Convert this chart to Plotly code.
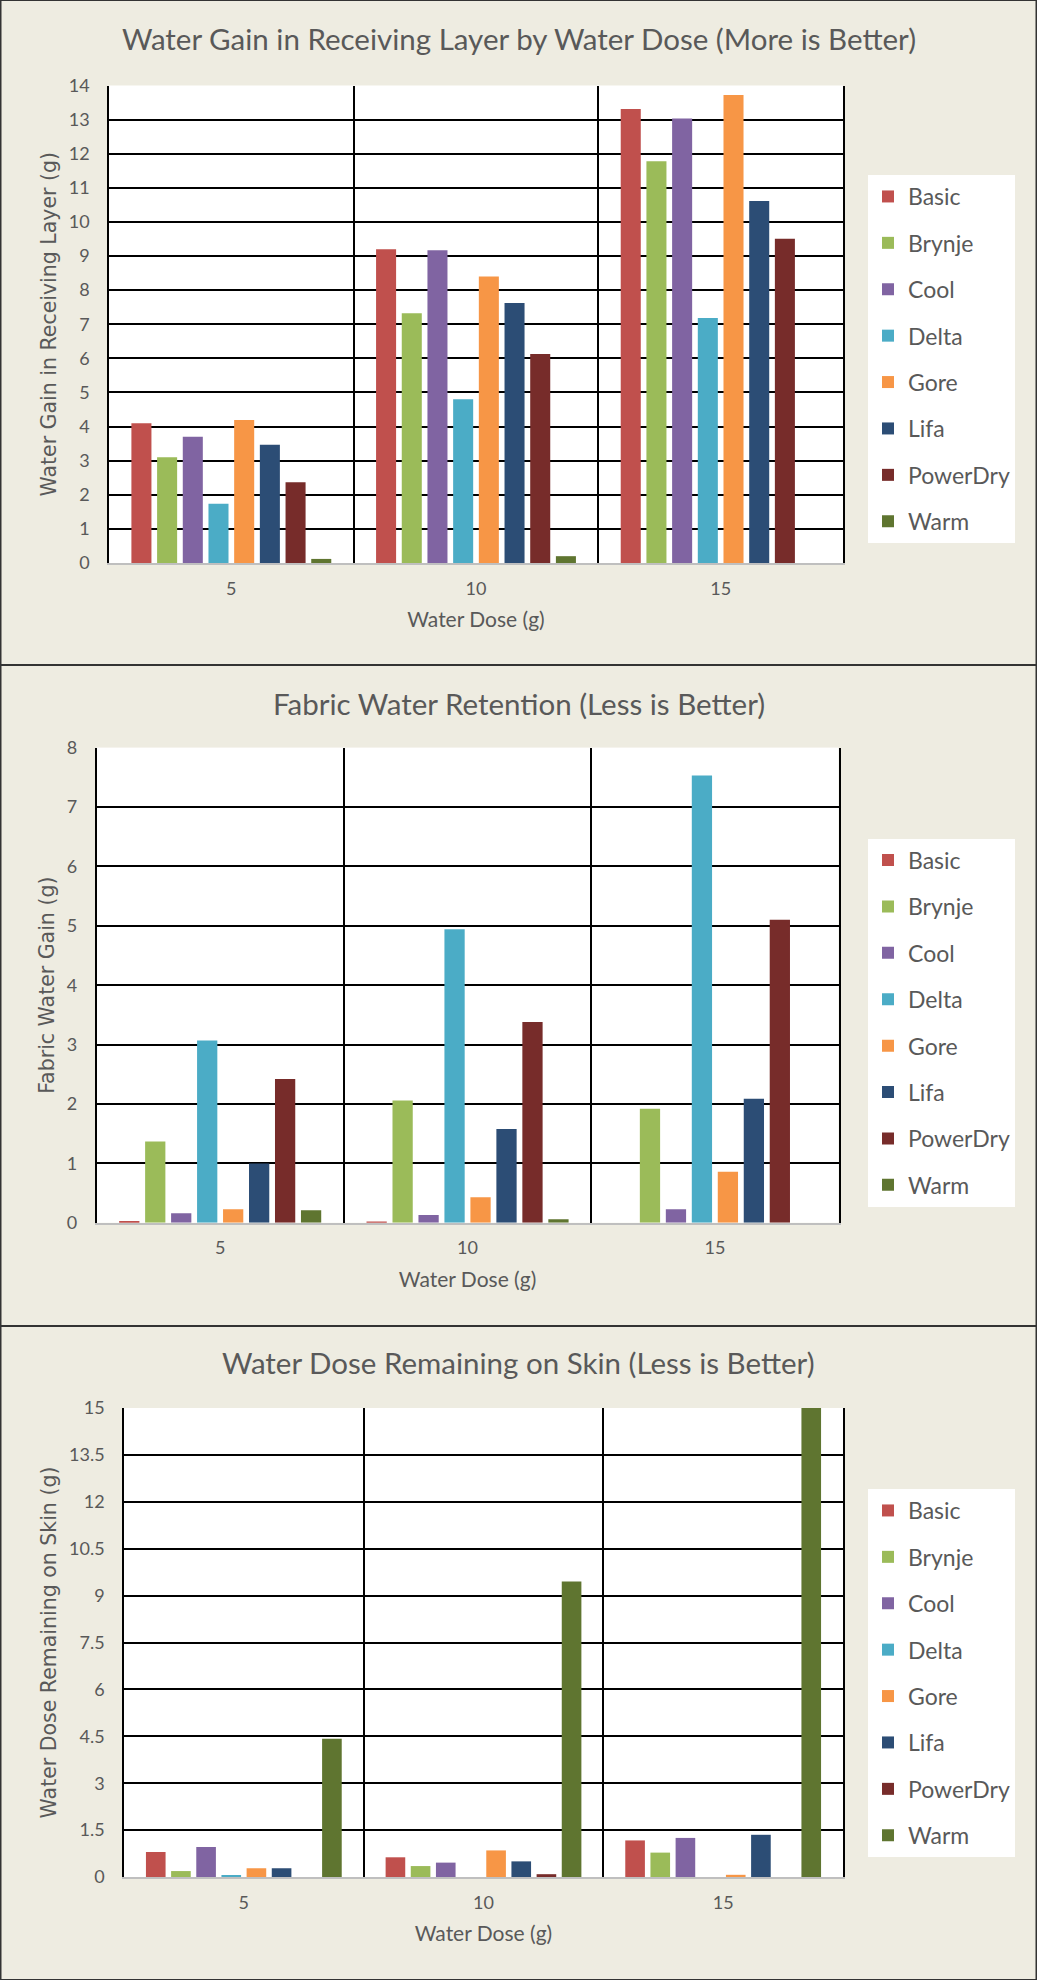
import plotly.graph_objects as go

doses = ["5", "10", "15"]
fabrics = ["Basic", "Brynje", "Cool", "Delta", "Gore", "Lifa", "PowerDry", "Warm"]
colors = ["#C0504D", "#9BBB59", "#8064A2", "#4BACC6", "#F79646", "#2C4D75", "#772C2A", "#5F7530"]

# Panel 1: Water gain in receiving layer (g)
gain_receiving = {
    "Basic":    [4.10, 9.20, 13.31],
    "Brynje":   [3.10, 7.32, 11.78],
    "Cool":     [3.70, 9.17, 13.03],
    "Delta":    [1.74, 4.80, 7.18],
    "Gore":     [4.19, 8.40, 13.72],
    "Lifa":     [3.47, 7.62, 10.61],
    "PowerDry": [2.37, 6.13, 9.51],
    "Warm":     [0.12, 0.20, 0.0],
}
# Panel 2: Fabric water gain (g)
fabric_gain = {
    "Basic":    [0.03, 0.01, 0.0],
    "Brynje":   [1.37, 2.06, 1.92],
    "Cool":     [0.16, 0.13, 0.23],
    "Delta":    [3.07, 4.94, 7.53],
    "Gore":     [0.23, 0.43, 0.86],
    "Lifa":     [1.00, 1.58, 2.09],
    "PowerDry": [2.42, 3.38, 5.10],
    "Warm":     [0.21, 0.06, 0.0],
}
# Panel 3: Water dose remaining on skin (g)
skin_remaining = {
    "Basic":    [0.80, 0.63, 1.17],
    "Brynje":   [0.19, 0.35, 0.78],
    "Cool":     [0.96, 0.46, 1.25],
    "Delta":    [0.04, 0.0, 0.0],
    "Gore":     [0.28, 0.85, 0.07],
    "Lifa":     [0.28, 0.50, 1.35],
    "PowerDry": [0.0, 0.09, 0.0],
    "Warm":     [4.42, 9.45, 15.0],
}

titles = [
    "Water Gain in Receiving Layer by Water Dose (More is Better)",
    "Fabric Water Retention (Less is Better)",
    "Water Dose Remaining on Skin (Less is Better)",
]
ytitles = ["Water Gain in Receiving Layer (g)", "Fabric Water Gain (g)", "Water Dose Remaining on Skin (g)"]
xtitle = "Water Dose (g)"

W, H = 1037, 1980
BG = "#EEECE1"
TXT = "#595959"
TFONT = "Lato"

datasets = [gain_receiving, fabric_gain, skin_remaining]
yranges = [[0, 14], [0, 8], [0, 15]]
dticks = [1, 1, 1.5]
# plot-area boxes in pixels: (left, right, top, bottom)
boxes = [(109, 843, 85.5, 563), (96.5, 838.6, 747.6, 1222.8), (124, 843, 1408, 1877)]
legend_tops = [175, 838.6, 1489]
title_y = [38.5, 703, 1362]
panels = [(0, 665), (665, 1326), (1326, 1980)]

fig = go.Figure()
layout = dict(
    width=W, height=H,
    margin=dict(l=0, r=0, t=0, b=0, autoexpand=False),
    paper_bgcolor=BG, plot_bgcolor="white",
    barmode="group", bargap=0.16, bargroupgap=0.22,
    font=dict(family=TFONT, color=TXT),
    annotations=[], shapes=[],
)

for p in range(3):
    sfx = "" if p == 0 else str(p + 1)
    data = datasets[p]
    leg = "legend" + sfx
    for name, col in zip(fabrics, colors):
        fig.add_trace(go.Bar(
            x=doses, y=data[name], name=name,
            marker=dict(color=col, line=dict(width=0)),
            xaxis="x" + sfx, yaxis="y" + sfx,
            legend=leg, legendgroup=f"p{p}_{name}",
        ))
    l, r, t, b = boxes[p]
    layout["xaxis" + sfx] = dict(
        domain=[l / W, r / W], anchor="y" + sfx, automargin=False,
        type="category", tickson="boundaries",
        showgrid=True, gridcolor="black", gridwidth=1.5,
        showline=True, linecolor="#BFBFBF", linewidth=2,
        ticks="", ticklabelstandoff=8,
        tickfont=dict(family=TFONT, size=18, color=TXT),
        title=dict(text=xtitle, font=dict(family=TFONT, size=21, color=TXT), standoff=15),
    )
    layout["yaxis" + sfx] = dict(
        domain=[1 - b / H, 1 - t / H], anchor="x" + sfx, automargin=False,
        range=yranges[p], dtick=dticks[p], tick0=0,
        showgrid=True, gridcolor="black", gridwidth=1.5,
        zeroline=False,
        showline=True, linecolor="black", linewidth=1.5, mirror=True,
        ticks="", ticklabelstandoff=14,
        tickfont=dict(family=TFONT, size=18, color=TXT),
        title=dict(text=ytitles[p], font=dict(family="DejaVu Sans", size=20.5, color=TXT), standoff=7),
    )
    layout[leg] = dict(
        x=868 / W, xanchor="left", y=1 - legend_tops[p] / H, yanchor="top",
        bgcolor="white", borderwidth=0,
        font=dict(family=TFONT, size=23, color=TXT),
        tracegroupgap=13.5, itemwidth=30,
    )
    layout["annotations"].append(dict(
        text=titles[p], x=0.5, xref="paper", y=1 - title_y[p] / H, yref="paper",
        xanchor="center", yanchor="middle", showarrow=False,
        font=dict(family=TFONT, size=29.5, color=TXT),
    ))
    y0, y1 = panels[p]
    layout["shapes"].append(dict(
        type="rect", xref="paper", yref="paper",
        x0=0.5 / W, x1=1 - 0.5 / W, y0=1 - y1 / H, y1=1 - y0 / H,
        line=dict(color="#333333", width=2), fillcolor="rgba(0,0,0,0)", layer="below",
    ))

fig.update_layout(**layout)
fig.write_html("out.html")
